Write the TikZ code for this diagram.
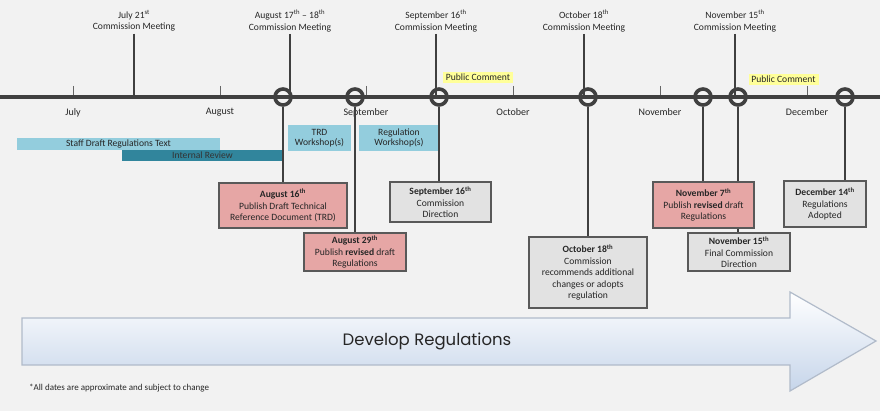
\documentclass[tikz,border=0pt]{standalone}
\usepackage{fontspec}
\setmainfont{Carlito}
\newfontfamily\arrowfont{Poppins}
\usetikzlibrary{positioning}
\definecolor{bgcol}{HTML}{F2F2F2}
\definecolor{tline}{HTML}{404040}
\definecolor{boxline}{HTML}{595959}
\definecolor{pinkfill}{HTML}{E6A6A5}
\definecolor{greyfill}{HTML}{E2E2E2}
\definecolor{barblue}{HTML}{93CDDD}
\definecolor{barteal}{HTML}{31859C}
\definecolor{pcyellow}{HTML}{FFFF99}
\definecolor{arrowblue}{HTML}{C6D5EA}
\tikzset{
  txt/.style={font=\fontsize{9.6}{11.5}\selectfont, text=black!85, align=center, inner sep=0pt},
  evbox/.style={txt, draw=boxline, line width=1.3pt, inner sep=1pt},
  pinkbox/.style={evbox, fill=pinkfill},
  greybox/.style={evbox, fill=greyfill},
  bar/.style={txt, font=\fontsize{9.6}{10.5}\selectfont, minimum height=11.5pt},
  ringpos/.style={circle, minimum size=19pt, inner sep=0pt},
  ring/.style={circle, draw=tline, line width=3.6pt, minimum size=16pt, inner sep=0pt},
  stem/.style={draw=tline, line width=2.2pt},
  pcom/.style={txt, fill=pcyellow, minimum width=70pt, minimum height=11.5pt}
}
\begin{document}
\begin{tikzpicture}[x=1pt,y=-1pt]
\useasboundingbox (0,0) rectangle (880,411);
\fill[bgcol] (0,0) rectangle (880,411);
% bars and workshops
\node[bar, fill=barblue, minimum width=203pt] (staff) at (118.5,144) {Staff Draft Regulations Text};
\node[bar, fill=barteal, minimum width=161pt, text=black!80] (review) at (202.5,155.5) {Internal Review};
\node[bar, fill=barblue, minimum width=63pt, minimum height=26pt] (trd) at (319.5,138) {TRD\\Workshop(s)};
\node[bar, fill=barblue, minimum width=80pt, minimum height=26pt] (regws) at (399,138) {Regulation\\Workshop(s)};
% public comment
\node[pcom] (pc1) at (478,77.5) {Public Comment};
\node[pcom] (pc2) at (783.5,79.5) {Public Comment};
% timeline
\coordinate (tl0) at (0,97);
\coordinate (tl1) at (880,97);
\foreach \x/\m in {73/July,220/August,366/September,513/October,660/November,807/December}{
  \draw[tline!80, line width=0.8pt] (\x,86) -- (\x,97);
  \node[txt, font=\fontsize{10}{12}\selectfont] at (\x,112.5) {\m};
}
% commission meetings
\node[txt] (m1) at (134,21) {July 21\textsuperscript{st}\\Commission Meeting};
\node[txt] (m2) at (290,21) {August 17\textsuperscript{th} -- 18\textsuperscript{th}\\Commission Meeting};
\node[txt] (m3) at (436,21) {September 16\textsuperscript{th}\\Commission Meeting};
\node[txt] (m4) at (584,21) {October 18\textsuperscript{th}\\Commission Meeting};
\node[txt] (m5) at (735,21) {November 15\textsuperscript{th}\\Commission Meeting};
\foreach \m in {m1,m2,m3,m4,m5}
  \draw[stem] ([yshift=-2pt]\m.south) -- (\m.south |- tl0);
% ring positions
\node[ringpos] (c1) at (283,97) {};
\node[ringpos] (c2) at (355,97) {};
\node[ringpos] (c3) at (439,97) {};
\node[ringpos] (c4) at (588,97) {};
\node[ringpos] (c5) at (703,97) {};
\node[ringpos] (c6) at (738,97) {};
\node[ringpos] (c7) at (845,97) {};
% event boxes
\node[pinkbox, minimum width=128pt, minimum height=45pt] (aug16) at (283,205.5)
  {\textbf{August 16\textsuperscript{th}}\\Publish Draft Technical\\Reference Document (TRD)};
\node[pinkbox, minimum width=102pt, minimum height=38pt] (aug29) at (355,252)
  {\textbf{August 29\textsuperscript{th}}\\Publish \textbf{revised} draft\\Regulations};
\node[greybox, minimum width=101pt, minimum height=40pt] (sep16) at (440.5,202)
  {\textbf{September 16\textsuperscript{th}}\\Commission\\Direction};
\node[greybox, minimum width=118pt, minimum height=71pt] (oct18) at (588,272.5)
  {\textbf{October 18\textsuperscript{th}}\\Commission\\recommends additional\\changes or adopts\\regulation};
\node[greybox, minimum width=102pt, minimum height=38pt] (nov15) at (739,252)
  {\textbf{November 15\textsuperscript{th}}\\Final Commission\\Direction};
\node[pinkbox, minimum width=101pt, minimum height=46pt] (nov7) at (703.5,205)
  {\textbf{November 7\textsuperscript{th}}\\Publish \textbf{revised} draft\\Regulations};
\node[greybox, minimum width=82pt, minimum height=46pt] (dec14) at (825,204)
  {\textbf{December 14\textsuperscript{th}}\\Regulations\\Adopted};
% stems
\draw[stem] (c1) -- (c1 |- aug16.north);
\draw[stem] (c2) -- (c2 |- aug29.north);
\draw[stem] (c3) -- (c3 |- sep16.north);
\draw[stem] (c4) -- (c4 |- oct18.north);
\draw[stem] (c5) -- (c5 |- nov7.north);
\draw[stem] (c6) -- (c6 |- nov7.north);
\draw[stem] (c6 |- nov7.south) -- (c6 |- nov15.north);
\draw[stem] (c7) -- (c7 |- dec14.north);
\draw[tline, line width=4.5pt] (tl0) -- (tl1);
\foreach \c in {c1,c2,c3,c4,c5,c6,c7}
  \node[ring] at (\c) {};
% develop arrow
\path[draw=arrowblue!70!gray, line width=1.2pt, top color=white, bottom color=arrowblue]
  (22,318) -- (790,318) -- (790,292) -- (876,341) -- (790,391) -- (790,365) -- (22,365) -- cycle;
\node[txt, font=\arrowfont\fontsize{16.5}{19}\selectfont] (dev) at (427,341) {Develop Regulations};
\node[txt, anchor=west, font=\fontsize{9}{10}\selectfont] (note) at (29,388) {*All dates are approximate and subject to change};
\end{tikzpicture}
\end{document}
